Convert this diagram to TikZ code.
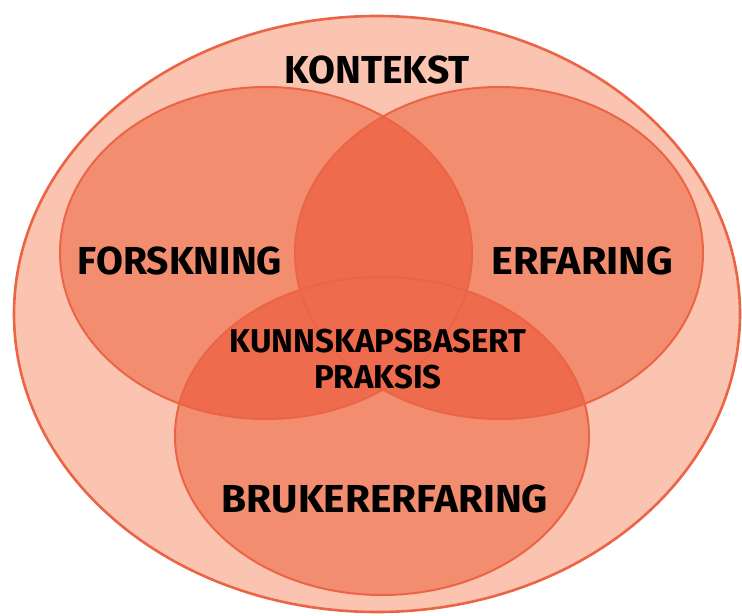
\documentclass[tikz,border=0pt]{standalone}
\usepackage{fontspec}
\setmainfont{Fira Sans}
\definecolor{ctxfill}{RGB}{250,196,176}
\definecolor{onefill}{RGB}{243,141,112}
\definecolor{twofill}{RGB}{239,107,77}
\definecolor{edge}{RGB}{236,100,70}
\tikzset{
  lbl/.style={font=\fontsize{39}{40}\selectfont\bfseries, text=black, inner sep=0pt, align=center},
  midlbl/.style={lbl, font=\fontsize{33}{36}\selectfont\bfseries},
  ring/.style={draw=edge, line width=2pt},
}
\begin{document}
\begin{tikzpicture}[x=1pt,y=-1pt]
\useasboundingbox[fill=white] (0,0) rectangle (742,616);
% context
\filldraw[ring, fill=ctxfill, line width=2.6pt] (377,314) ellipse [x radius=363, y radius=298];
% three circles
\def\Lc{(266,253) ellipse [x radius=206, y radius=166]}
\def\Rc{(499,253) ellipse [x radius=204, y radius=166]}
\def\Bc{(382,436) ellipse [x radius=207, y radius=159]}
\fill[onefill] \Lc;
\fill[onefill] \Rc;
\fill[onefill] \Bc;
% overlaps
\begin{scope}
  \clip \Lc;
  \fill[twofill] \Rc;
  \fill[twofill] \Bc;
\end{scope}
\begin{scope}
  \clip \Rc;
  \fill[twofill] \Bc;
\end{scope}
% outlines
\draw[ring] \Lc;
\draw[ring] \Rc;
\draw[ring] \Bc;
% labels
\node[lbl] (kontekst) at (377,70) {KONTEKST};
\node[lbl] (forskning) at (180,261) {FORSKNING};
\node[lbl, xscale=1.06] (erfaring) at (582,261) {ERFARING};
\node[midlbl] (kbp) at (378,359) {KUNNSKAPSBASERT\\PRAKSIS};
\node[lbl, xscale=1.04] (bruker) at (385,499) {BRUKERERFARING};
\end{tikzpicture}
\end{document}
